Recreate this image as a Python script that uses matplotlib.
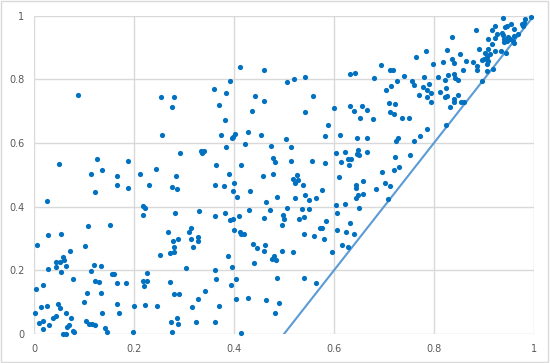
import matplotlib
matplotlib.use("Agg")
import matplotlib.pyplot as plt
from matplotlib.patches import Rectangle

x = [
    .412, .46, .391, .36, .384, .253, .279, .441, .459, .276, .369, .435, .382, .088,
    .505, .519, .541, .632, .641, .694, .711, .718, .739, .68, .725, .713, .703, .557,
    .542, .599, .631, .64, .656, .665, .651, .677, .71, .722, .711, .719, .736, .749, .587,
    .937, .982, .993, .975, .98, .978, .921, .945, .953, .942, .96, .884, .915, .935, .938,
    .926, .922, .967, .959, .948, .939, .951, .957, .946, .94, .959, .836, .907, .915, .907,
    .89, .922, .934, .943, .783, .826, .763, .835, .851, .901, .911, .905, .9, .908, .895,
    .84, .817, .797, .864, .878, .885, .905, .917, .905, .885, .858, .827, .84, .807, .841,
    .848, .822, .895, .78, .755, .759, .778, .79, .785, .794, .812, .823, .769, .785, .793,
    .821, .825, .839, .847, .839, .854, .86, .832,
    .049, .125, .188, .114, .135, .165, .212, .243, .165, .188, .23, .121, .025, .217, .221,
    .218, .107, .151, .027, .053,
    .255, .373, .395, .398, .402, .427, .453, .421, .384, .473, .292, .333, .339, .335,
    .477, .482, .363, .413, .389, .478, .283, .457, .399, .361, .38, .275, .285, .397, .431,
    .405, .486, .463, .281, .329, .361, .381, .43, .471, .41, .392, .398, .46, .497, .499,
    .495, .267, .313, .31, .4, .411, .414, .419,
    .503, .581, .611, .645, .665, .724, .727, .513, .604, .622, .647, .645, .649, .665,
    .751, .722, .514, .555, .581, .613, .628, .633, .629, .73, .719, .695, .525, .517, .527,
    .522, .609, .538, .657, .702, .711, .643, .644, .683, .575, .541, .647, .657, .521, .549,
    .564, .644, .708, .604, .621, .506, .536, .55, .649, .606, .53, .539, .583, .632, .571,
    .575, .605, .623, .64, .539,
    .823, .786, .771, .759,
    .006, .102, .071, .057, .059, .063, .051, .044, .043, .054, .027, .077, .017, .003,
    .114, .12, .133, .121, .13, .155, .159, .165, .183, .105, .134, .099, .165, .169, .135,
    .2, .222, .246, .217, .226, .219, .225, .251, .013, .025, .002, .047, .052, .064, .043,
    .037, .074, .018, .009, .029, .018, .069, .066, .058, .063, .077, .079, .104, .11, .115,
    .122, .141, .146, .197,
    .278, .288, .313, .328, .327, .279, .318, .271, .279, .437, .446, .462, .46, .48, .476,
    .483, .495, .387, .395, .439, .303, .362, .271, .364, .403, .394, .486, .342, .28, .29,
    .328, .404, .427, .464, .489, .369, .315, .481, .285, .273, .288, .323, .361, .276, .413,
    .559, .579, .615, .628, .518, .596, .539, .563,
]
y = [
    .839, .828, .793, .768, .757, .745, .743, .746, .731, .713, .72, .699, .672, .75,
    .79, .802, .807, .815, .82, .845, .828, .83, .81, .804, .794, .779, .766, .746,
    .697, .71, .715, .699, .715, .703, .678, .676, .724, .721, .697, .692, .677, .679, .656,
    .991, .988, .994, .973, .977, .967, .967, .967, .973, .963, .959, .953, .953, .946, .94,
    .942, .929, .942, .936, .934, .927, .925, .919, .921, .916, .913, .933, .927, .911, .894,
    .895, .889, .889, .882, .889, .892, .871, .863, .878, .883, .88, .871, .862, .858, .859,
    .852, .855, .847, .856, .853, .842, .847, .833, .827, .829, .828, .814, .816, .807, .804,
    .798, .798, .793, .807, .795, .781, .776, .786, .765, .758, .761, .773, .749, .743, .729,
    .743, .748, .737, .75, .727, .728, .728, .713,
    .533, .549, .542, .502, .514, .496, .502, .517, .467, .458, .467, .445, .417, .402, .395,
    .375, .338, .341, .311, .313,
    .625, .625, .615, .618, .627, .634, .626, .597, .586, .591, .568, .576, .576, .567,
    .554, .541, .53, .53, .502, .502, .495, .495, .474, .467, .465, .461, .454, .45, .45,
    .431, .43, .413, .38, .385, .37, .379, .388, .388, .371, .359, .361, .363, .373, .36,
    .342, .32, .333, .32, .327, .32, .315, .315,
    .612, .623, .625, .614, .614, .607, .614, .586, .567, .572, .578, .564, .562, .571,
    .561, .557, .542, .542, .538, .541, .548, .548, .53, .524, .515, .508, .5, .487, .483,
    .473, .494, .467, .48, .473, .464, .469, .459, .455, .453, .436, .435, .44, .426, .42,
    .426, .427, .425, .404, .407, .397, .393, .392, .397, .38, .362, .367, .356, .349, .333,
    .333, .327, .32, .315, .315,
    .656, .645, .621, .607,
    .278, .276, .262, .241, .231, .213, .226, .226, .211, .196, .203, .174, .153, .142,
    .199, .216, .213, .166, .162, .189, .189, .159, .159, .128, .128, .102, .094, .065, .067,
    .088, .091, .088, .167, .167, .152, .192, .249, .085, .087, .065, .093, .081, .066, .057,
    .049, .049, .042, .035, .027, .015, .028, .021, .001, .001, .009, .005, .04, .031, .032,
    .028, .02, .005, .007,
    .293, .299, .299, .305, .291, .272, .274, .253, .257, .284, .271, .28, .262, .246, .236,
    .233, .262, .245, .211, .223, .207, .201, .164, .172, .172, .155, .175, .134, .126, .126,
    .111, .111, .113, .108, .098, .088, .084, .067, .05, .039, .032, .038, .038, .006, .002,
    .308, .297, .279, .273, .257, .256, .177, .161,
]
line_x = [0.5, 1.0]
line_y = [0.0, 1.0]
ticks = [0, 0.2, 0.4, 0.6, 0.8, 1.0]
tick_labels = ["0", "0.2", "0.4", "0.6", "0.8", "1"]

fig = plt.figure(figsize=(5.5, 3.63), dpi=100)
fig.patches.append(Rectangle((0.002, 0.003), 0.995, 0.993, transform=fig.transFigure,
                             fill=False, edgecolor="#D9D9D9", linewidth=1.0))
ax = fig.add_axes([34/550, 29/363, 500/550, 318.5/363])
ax.set_xlim(0, 1)
ax.set_ylim(0, 1)
ax.set_xticks(ticks)
ax.set_xticklabels(tick_labels)
ax.set_yticks(ticks)
ax.set_yticklabels(tick_labels)
ax.grid(True, color="#D9D9D9", linewidth=1.0)
ax.set_axisbelow(True)
for s in ax.spines.values():
    s.set_visible(False)
ax.tick_params(length=0, labelsize=7, labelcolor="#595959", pad=7)
ax.plot(line_x, line_y, color="#5B9BD5", linewidth=1.5, zorder=2)
ax.scatter(x, y, s=14, color="#0070C0", linewidths=0, zorder=3, clip_on=False)
fig.savefig("out.png", dpi=100)
